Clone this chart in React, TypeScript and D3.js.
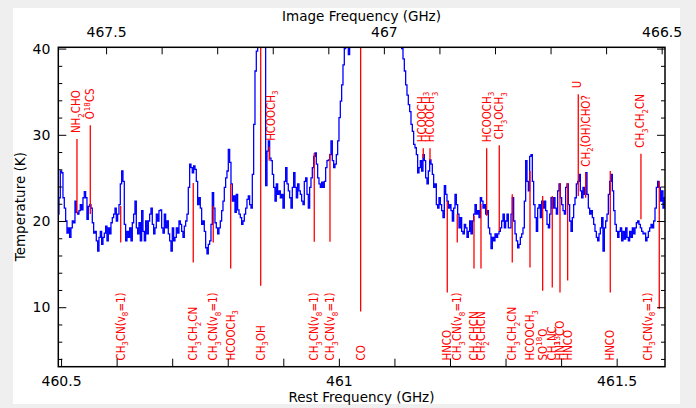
import React, { useEffect, useRef } from 'react';
import * as d3 from 'd3';

// spectrum: first channel (rest frequency, GHz), channel width and brightness temperature (K)
const firstChannel = 460.495;
const channelWidth = 0.0024;
const temperature = [
    20.8, 22.7, 25.8, 25.6, 22.7, 21.5, 20.0, 18.6, 19.2, 18.1, 19.2, 20.0, 19.8, 22.3, 21.0, 20.8, 21.2, 21.9, 21.3, 22.7,
    23.4, 22.7, 20.2, 21.7, 21.9, 21.5, 19.8, 18.6, 18.8, 17.7, 16.5, 18.1, 18.8, 17.3, 18.1, 18.6, 19.4, 17.7, 19.2, 18.5,
    19.8, 20.4, 20.8, 21.5, 20.0, 20.8, 21.9, 24.3, 25.8, 24.6, 19.6, 17.7, 18.8, 18.1, 19.2, 17.7, 19.8, 20.8, 22.3, 19.2,
    18.5, 19.8, 17.7, 21.2, 18.8, 17.7, 20.0, 18.5, 20.0, 20.8, 21.5, 19.6, 18.5, 19.2, 20.8, 20.0, 21.2, 21.3, 19.2, 18.6,
    20.8, 19.2, 20.0, 18.5, 17.7, 16.5, 19.2, 17.7, 18.1, 19.2, 18.6, 20.0, 19.6, 18.8, 18.1, 19.4, 20.0, 20.8, 23.9, 26.6,
    26.2, 25.6, 26.4, 26.0, 24.6, 21.9, 22.7, 21.5, 19.6, 20.0, 18.8, 16.9, 16.2, 17.3, 17.7,
    19.6, 23.3, 21.5, 19.8, 19.2, 18.5, 19.2, 20.0, 21.2, 22.3, 23.9, 25.0, 25.8, 28.3, 26.8, 24.3, 22.3, 22.9, 21.0, 23.1,
    21.3, 20.8, 20.4, 19.6, 20.0, 20.8, 21.5, 22.5, 22.9, 21.9, 21.5, 25.4, 31.2, 37.4, 39.7, 45, 52, 58, 56, 50,
    44, 24.1, 28.1, 29.3, 27.3, 27.0, 25.4, 23.9, 22.3, 24.3, 23.1, 23.5, 22.7, 23.1, 21.5, 24.6, 26.2, 24.3, 23.5, 22.7,
    21.5, 23.9, 25.6, 23.9, 22.7, 24.3, 23.5, 23.1, 22.3, 21.9, 24.6, 25.0, 23.1, 21.5, 23.9, 25.0, 26.2, 27.5, 27.9, 26.6,
    25.0, 24.3, 23.9, 24.5, 23.9, 24.6, 26.2, 27.0, 27.1, 27.7, 29.3, 27.0, 26.2, 26.6, 27.7, 29.3, 32.0, 33.9, 35.8, 38.1,
    40.0, 45, 50, 39.3, 45, 52, 60, 70, 80, 90, 100, 110,
    120, 108, 96, 88, 83, 78, 74, 70, 66, 63, 60, 58, 56, 54, 52, 50, 49, 48, 47, 46,
    45.5, 45, 44.5, 44, 43.5, 43, 42.5, 42, 41.5, 41, 40.6,
    40.0, 38.8, 37.4, 35.8, 34.6, 33.5, 32.7, 31.2, 30.4, 28.9, 28.5, 27.7, 25.6, 26.2, 27.0, 25.8, 27.7, 27.0, 25.0, 24.3,
    25.8, 27.1, 26.6, 25.4, 23.9, 24.3, 21.9, 21.5, 22.7, 21.9, 21.2, 20.4, 24.1, 23.1, 22.3, 21.5, 21.9, 21.2, 20.0, 21.5,
    23.1, 21.9, 20.8, 19.2, 20.4, 18.8, 18.5, 19.6, 19.2, 18.1, 18.8, 20.0, 18.5, 20.0, 20.8, 21.9, 20.8, 21.2, 20.4, 22.7,
    22.3, 21.5, 21.9, 20.8, 21.2, 19.2, 18.5, 16.8, 18.1, 17.7, 18.5, 18.1, 18.5, 18.8, 19.2, 20.0, 20.8, 19.2, 20.0, 20.8,
    19.2,
    19.2, 20.8, 22.7, 20.0, 18.5, 17.7, 16.9, 17.3, 18.1, 18.5, 19.2, 22.3, 27.0, 24.6, 23.5, 27.5, 27.7, 24.6, 21.9, 20.4,
    18.8, 21.5, 21.9, 20.4, 22.3, 21.5, 22.3, 21.2, 19.6, 19.2, 20.8, 22.7, 21.5, 22.7, 21.5, 20.8, 23.5, 24.3, 22.7, 21.9,
    21.2, 20.8, 23.9, 24.3, 21.9, 20.0, 18.8, 20.4, 21.9, 22.7, 24.3, 24.6, 25.4, 23.5, 22.7, 23.9, 23.1, 25.6, 23.1, 21.5,
    20.8, 21.2, 20.4, 19.6, 18.8, 18.1, 17.7, 18.5, 19.2, 20.4, 16.5, 19.2, 20.0, 20.8, 23.1, 24.6, 25.4, 23.5, 21.2, 19.6,
    18.8, 18.1, 18.8, 19.2, 17.7, 18.8, 17.9, 19.2, 18.1, 17.7, 18.8, 18.1, 19.2, 18.5, 19.2, 19.8, 20.0, 19.6, 19.2, 18.8,
    18.5, 18.6, 17.7, 18.1, 18.8, 19.2, 19.6, 19.2, 20.0, 21.5, 23.9, 24.6, 23.9, 22.3, 23.5, 21.5, 22.7
];

// line identifications (_x subscript, ^{xx} superscript)
const lineLabels = [
    'NH_2CHO', 'O^{18}CS', 'CH_3CN(v_8=1)', 'CH_3CH_2CN', 'CH_3CN(v_8=1)', 'HCOOCH_3', 'CH_3OH', 'HCOOCH_3',
    'CH_3CN(v_8=1)', 'CH_3CN(v_8=1)', 'CO', 'HCOOCH_3', 'HCOOCH_3', 'HNCO', 'CH_3CN(v_8=1)', 'CH_2CHCN',
    'CH_2CHCN', 'HCOOCH_3', 'CH_3OCH_3', 'CH_3CH_2CN', 'HCOOCH_3', 'SO^{18}O', 'CH_3NC', 'HN^{13}CO',
    'HNCO', 'U', 'CH_2(OH)CHO?', 'HNCO', 'CH_3CH_2CN', 'CH_3CN(v_8=1)'
];
const lineFreqs = [
    460.5286, 460.5526, 460.6073, 460.7379, 460.7739, 460.8053, 460.8593, 460.8746,
    460.9557, 460.9840, 461.0392, 461.1519, 461.1640, 461.1951, 461.2131, 461.2432,
    461.2558, 461.2660, 461.2887, 461.3121, 461.3440, 461.3668, 461.3841, 461.3980,
    461.4118, 461.4309, 461.4442, 461.4885, 461.5437, 461.5767
];
const labelFreqs = [
    460.5270, 460.5526, 460.6073, 460.7379, 460.7739, 460.8053, 460.8593, 460.8775,
    460.9557, 460.9840, 461.0392, 461.1490, 461.1640, 461.1951, 461.2131, 461.2432,
    461.2558, 461.2660, 461.2887, 461.3121, 461.3440, 461.3668, 461.3841, 461.3980,
    461.4118, 461.4280, 461.4442, 461.4885, 461.5420, 461.5563
];
const lineHigh = [
    29.5, 31.1, 21.75, 24.4, 21.75, 24.3, 45, 28.6,
    27.9, 27.8, 45, 28.45, 28.45, 22.3, 20.8, 20.6,
    22.0, 28.45, 28.8, 23.1, 25.8, 22.9, 22.9, 24.4,
    24.4, 34.7, 25.6, 25.8, 27.8, 24.6
];
const lineLow = [
    20.9, 20.8, 17.5, 15.2, 17.5, 14.5, 12.5, 27.0,
    17.6, 17.6, 9.5, 27.3, 27.0, 11.7, 17.5, 14.5,
    14.5, 20.6, 18.85, 15.2, 14.6, 11.9, 12.3, 11.7,
    13.1, 22.9, 22.7, 11.7, 20.2, 9.8
];
const labelSide = [
    'top', 'top', 'bottom', 'bottom', 'bottom', 'bottom', 'bottom', 'top',
    'bottom', 'bottom', 'bottom', 'top', 'top', 'bottom', 'bottom', 'bottom',
    'bottom', 'top', 'top', 'bottom', 'bottom', 'bottom', 'bottom', 'bottom',
    'bottom', 'top', 'top', 'bottom', 'top', 'bottom'
];

// axes
const restTicks = [460.5, 460.6, 460.7, 460.8, 460.9, 461, 461.1, 461.2, 461.3, 461.4, 461.5];
const restTickLabels = [460.5, 461, 461.5];
const imageTicks = [467.5, 467.4, 467.3, 467.2, 467.1, 467, 466.9, 466.8, 466.7, 466.6, 466.5];
const imageTickLabels = [467.5, 467, 466.5];
const imageSum = 928.081; // image = imageSum - rest
const tempMajor = [10, 20, 30, 40];
const tempMinor = [4, 6, 8, 12, 14, 16, 18, 22, 24, 26, 28, 32, 34, 36, 38];

const W = 696, H = 408;
const plot = {left: 58.3, right: 665, top: 47.3, bottom: 366.7};
const font = 'DejaVu Sans, sans-serif';
const labelFont = "'DejaVu Sans Condensed', 'DejaVu Sans', sans-serif";

const parseLabel = function (s: string) {
    const parts: {text: string, kind: string}[] = [];
    let buf = '';
    for (let i = 0; i < s.length; i++) {
        const c = s[i];
        if (c === '_' || c === '^') {
            if (buf) parts.push({text: buf, kind: 'n'});
            buf = '';
            let t = '';
            if (s[i + 1] === '{') {
                const end = s.indexOf('}', i);
                t = s.slice(i + 2, end);
                i = end;
            } else {
                t = s[i + 1];
                i++;
            }
            parts.push({text: t, kind: c === '_' ? 'sub' : 'sup'});
        } else {
            buf += c;
        }
    }
    if (buf) parts.push({text: buf, kind: 'n'});
    return parts;
};

const App = () => {
    const svgRef = useRef<SVGSVGElement>(null);

    useEffect(() => {
        const svg = d3.select(svgRef.current);
        svg.selectAll('*').remove();

        svg.append('rect').attr('width', W).attr('height', H).attr('fill', '#efefef');
        svg.append('rect').attr('x', 13).attr('y', 8).attr('width', 667).attr('height', 396).attr('fill', '#fff');

        const x = d3.scaleLinear().domain([460.495, 461.587]).range([plot.left, plot.right]);
        const xTop = d3.scaleLinear().domain([imageSum - 460.495, imageSum - 461.587]).range([plot.left, plot.right]);
        const y = d3.scaleLinear().domain([3.1, 40.15]).range([plot.bottom, plot.top]);

        svg.append('clipPath').attr('id', 'plotClip')
            .append('rect')
            .attr('x', plot.left).attr('y', plot.top)
            .attr('width', plot.right - plot.left).attr('height', plot.bottom - plot.top);

        const inner = svg.append('g').attr('clip-path', 'url(#plotClip)');

        // spectrum
        const line = d3.line<number>()
            .x((d, i) => x(firstChannel + i * channelWidth))
            .y((d) => y(d))
            .curve(d3.curveStep);

        inner.append('path')
            .datum(temperature)
            .attr('d', line)
            .attr('fill', 'none')
            .attr('stroke', '#0000ff')
            .attr('stroke-width', 1.3);

        // line markers
        inner.selectAll('.marker')
            .data(lineFreqs)
            .enter()
            .append('line')
            .attr('x1', (d) => x(d)).attr('x2', (d) => x(d))
            .attr('y1', (d, i) => y(lineHigh[i])).attr('y2', (d, i) => y(lineLow[i]))
            .attr('stroke', '#ff0000')
            .attr('stroke-width', 1.3);

        // marker labels
        const fs = 11.4;
        lineLabels.forEach((lab, i) => {
            const lx = x(labelFreqs[i]) + 0.36 * fs;
            const ly = labelSide[i] === 'top' ? y(lineHigh[i]) - 6 : 360.5;
            const t = svg.append('text')
                .attr('transform', `translate(${lx},${ly}) rotate(-90)`)
                .attr('font-family', labelFont)
                .attr('font-stretch', 'condensed')
                .attr('font-size', fs)
                .attr('fill', '#ff0000');
            let prev = 0;
            parseLabel(lab).forEach((p) => {
                const shift = p.kind === 'sub' ? 0.3 * fs : p.kind === 'sup' ? -0.4 * fs : 0;
                t.append('tspan')
                    .attr('font-size', p.kind === 'n' ? fs : fs * 0.7)
                    .attr('dy', shift - prev)
                    .text(p.text);
                prev = shift;
            });
        });

        // axes
        const styleAxis = (g) => {
            g.select('.domain').remove();
            g.selectAll('line').attr('stroke', '#000').attr('stroke-width', 1);
            g.selectAll('text').attr('font-family', font).attr('font-size', 14).attr('fill', '#000');
        };

        svg.append('g')
            .attr('transform', `translate(0,${plot.bottom})`)
            .call(d3.axisBottom(x).tickValues(restTicks).tickSizeInner(-8).tickSizeOuter(0).tickPadding(9)
                .tickFormat((d) => restTickLabels.includes(+d) ? String(+(+d).toFixed(1)) : ''))
            .call(styleAxis);

        svg.append('g')
            .attr('transform', `translate(0,${plot.top})`)
            .call(d3.axisTop(xTop).tickValues(imageTicks).tickSizeInner(-7).tickSizeOuter(0).tickPadding(10)
                .tickFormat((d) => imageTickLabels.includes(+d) ? String(+(+d).toFixed(1)) : ''))
            .call(styleAxis);

        svg.append('g')
            .attr('transform', `translate(${plot.left},0)`)
            .call(d3.axisLeft(y).tickValues(tempMajor).tickSizeInner(-8).tickSizeOuter(0).tickPadding(8))
            .call(styleAxis);

        svg.append('g')
            .attr('transform', `translate(${plot.left},0)`)
            .call(d3.axisLeft(y).tickValues(tempMinor).tickSizeInner(-4).tickSizeOuter(0).tickFormat(() => ''))
            .call(styleAxis);

        svg.append('g')
            .attr('transform', `translate(${plot.right},0)`)
            .call(d3.axisRight(y).tickValues(tempMajor).tickSizeInner(-8).tickSizeOuter(0).tickFormat(() => ''))
            .call(styleAxis);

        svg.append('g')
            .attr('transform', `translate(${plot.right},0)`)
            .call(d3.axisRight(y).tickValues(tempMinor).tickSizeInner(-4).tickSizeOuter(0).tickFormat(() => ''))
            .call(styleAxis);

        // frame
        svg.append('rect')
            .attr('x', plot.left).attr('y', plot.top)
            .attr('width', plot.right - plot.left).attr('height', plot.bottom - plot.top)
            .attr('fill', 'none')
            .attr('stroke', '#000')
            .attr('stroke-width', 1.5);

        // titles
        svg.append('text')
            .attr('x', 361.5).attr('y', 401.5)
            .attr('text-anchor', 'middle')
            .attr('font-family', font).attr('font-size', 13.5)
            .text('Rest Frequency (GHz)');

        svg.append('text')
            .attr('x', 361.5).attr('y', 20.5)
            .attr('text-anchor', 'middle')
            .attr('font-family', font).attr('font-size', 13.5)
            .text('Image Frequency (GHz)');

        svg.append('text')
            .attr('transform', 'translate(25,206.7) rotate(-90)')
            .attr('text-anchor', 'middle')
            .attr('font-family', font).attr('font-size', 13.5)
            .text('Temperature (K)');
    }, []);

    return (
        <svg ref={svgRef} width={W} height={H} style={{position: 'absolute', left: 0, top: 0}}></svg>
    );
};

export default App;
